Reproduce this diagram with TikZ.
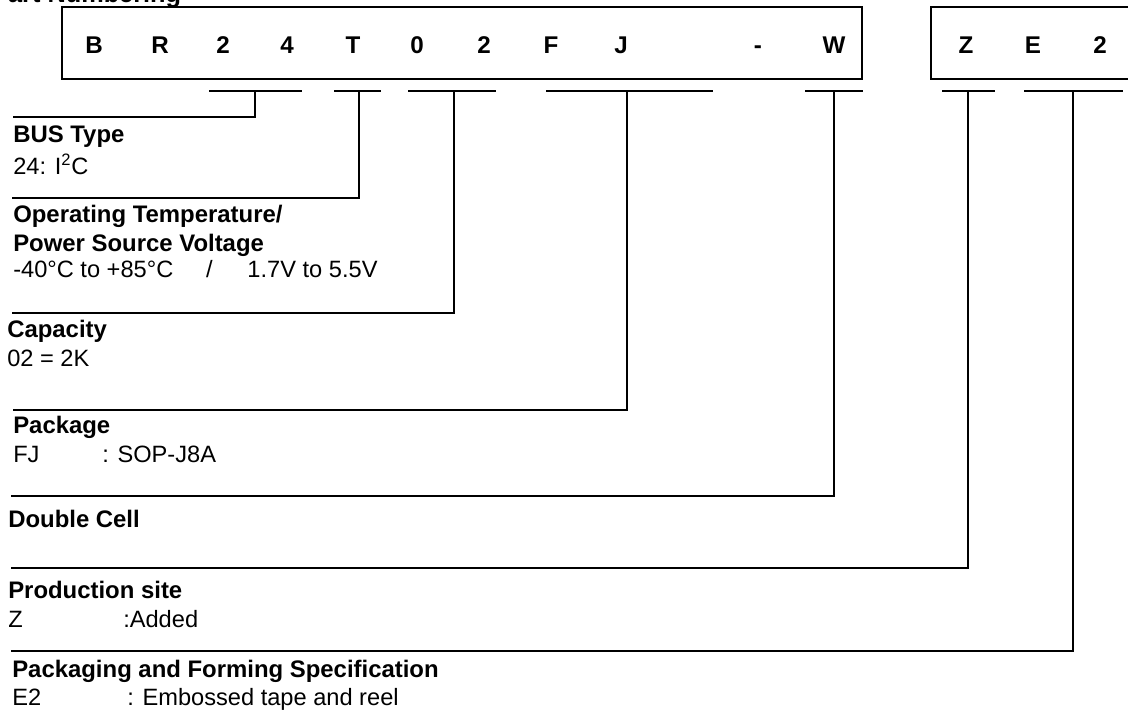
\documentclass[tikz,border=0pt]{standalone}
\usepackage{fontspec}
\setmainfont{Liberation Sans}
\usepackage{tikz}
\usetikzlibrary{positioning,calc}

\tikzset{
  partchar/.style={font=\fontsize{17.2}{20}\selectfont\bfseries, inner sep=0pt, anchor=base},
  head/.style={font=\fontsize{17}{20}\selectfont\bfseries, inner sep=0pt, anchor=base west},
  txt/.style={font=\fontsize{16.8}{20}\selectfont, inner sep=0pt, anchor=base west},
  lead/.style={line width=1pt},
  frame/.style={line width=1.4pt}
}

\begin{document}
\begin{tikzpicture}[x=0.025cm, y=-0.025cm]
\useasboundingbox (0,0) rectangle (1128,711);
\clip (0,0) rectangle (1128,711);
% title, cut off at the top
\node[head, font=\fontsize{18}{20}\selectfont\bfseries] (title) at (-9,2) {Part Numbering};
% part number boxes
\draw[frame] (62,7) rectangle (862,79);
\draw[frame] (931,7) rectangle (1140,79);
% characters of the part number
\node[partchar] (cB) at (94,53) {B};
\node[partchar] (cR) at (160,53) {R};
\node[partchar] (c2) at (223,53) {2};
\node[partchar] (c4) at (287,53) {4};
\node[partchar] (cT) at (353,53) {T};
\node[partchar] (c0) at (417,53) {0};
\node[partchar] (c2b) at (484,53) {2};
\node[partchar] (cF) at (551,53) {F};
\node[partchar] (cJ) at (621,53) {J};
\node[partchar] (cdash) at (758,53) {-};
\node[partchar] (cW) at (834,53) {W};
\node[partchar] (cZ) at (966,53) {Z};
\node[partchar] (cE) at (1033,53) {E};
\node[partchar] (c2c) at (1100,53) {2};
% underlines below the fields
\draw[lead] (209,91) -- (302,91);
\draw[lead] (334,91) -- (381,91);
\draw[lead] (408,91) -- (496,91);
\draw[lead] (546,91) -- (713,91);
\draw[lead] (805,91) -- (863,91);
\draw[lead] (942,91) -- (995,91);
\draw[lead] (1024,91) -- (1123,91);
% tap points and leader ends
\coordinate (busU) at (255,91);   \coordinate (busE) at (13,117);
\coordinate (tempU) at (359,91);  \coordinate (tempE) at (12,198);
\coordinate (capU) at (454,91);   \coordinate (capE) at (12,313);
\coordinate (pkgU) at (627,91);   \coordinate (pkgE) at (13,410);
\coordinate (cellU) at (834,91);  \coordinate (cellE) at (11,496);
\coordinate (siteU) at (968,91);  \coordinate (siteE) at (11,568);
\coordinate (specU) at (1073,91); \coordinate (specE) at (11,651);
% leaders
\draw[lead] (busU) |- (busE);
\draw[lead] (tempU) |- (tempE);
\draw[lead] (capU) |- (capE);
\draw[lead] (pkgU) |- (pkgE);
\draw[lead] (cellU) |- (cellE);
\draw[lead] (siteU) |- (siteE);
\draw[lead] (specU) |- (specE);
% BUS type
\node[head] (bush) at (13,142) {BUS Type};
\node[txt] (bust) at (13,174) {24: I\textsuperscript{2}C};
% temperature and voltage
\node[head] (temph) at (13,222) {Operating Temperature/};
\node[head] (temph2) at (13,251) {Power Source Voltage};
\node[txt] (tempt) at (13,277) {-40°C to +85°C\hspace{0.82cm}/\hspace{0.87cm}1.7V to 5.5V};
% capacity
\node[head] (caph) at (7,337) {Capacity};
\node[txt] (capt) at (7,366) {02 = 2K};
% package
\node[head] (pkgh) at (13,433) {Package};
\node[txt] (pkgt) at (13,462) {FJ};
\node[txt] (pkgv) at (102,462) {: SOP-J8A};
% double cell
\node[head] (cellh) at (8,527) {Double Cell};
% production site
\node[head] (siteh) at (8,598) {Production site};
\node[txt] (sitet) at (8,627) {Z};
\node[txt] (sitev) at (123,627) {:Added};
% packaging and forming
\node[head] (spech) at (12,677) {Packaging and Forming Specification};
\node[txt] (spect) at (12,705) {E2};
\node[txt] (specv) at (127,705) {: Embossed tape and reel};
\end{tikzpicture}
\end{document}
